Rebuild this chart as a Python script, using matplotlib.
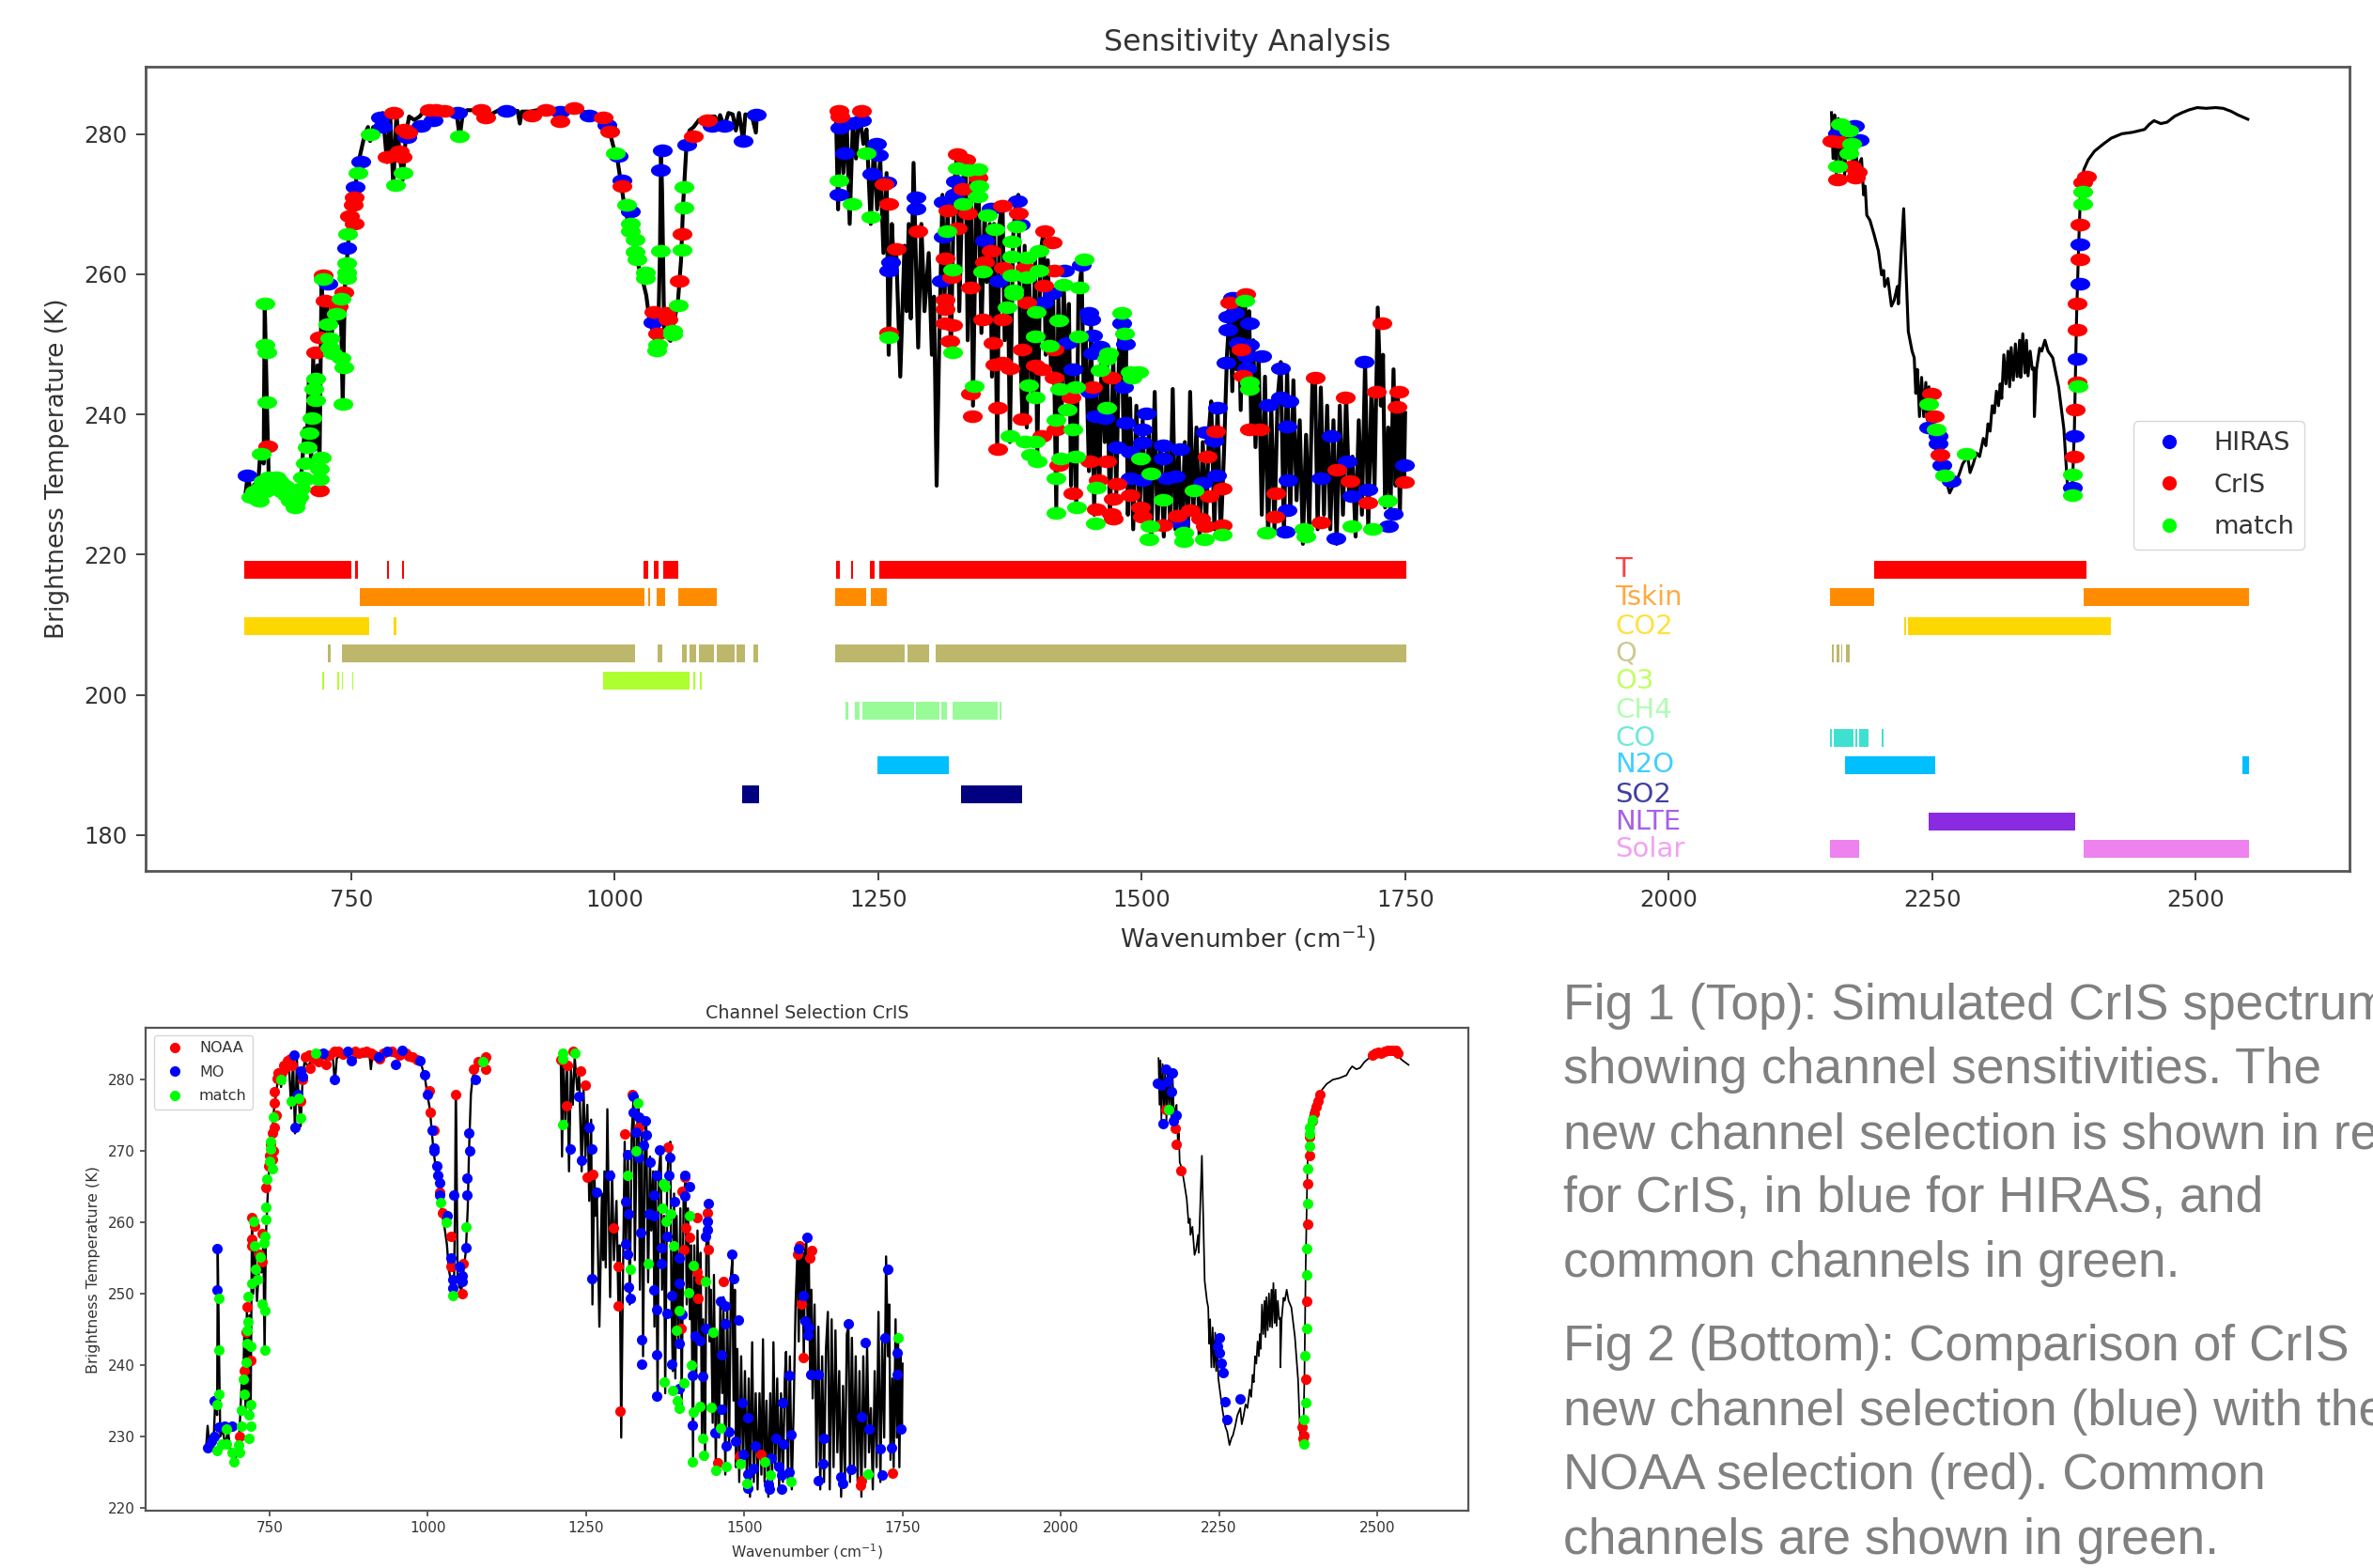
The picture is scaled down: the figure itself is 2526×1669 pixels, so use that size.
import matplotlib
matplotlib.use('Agg')
import matplotlib.pyplot as plt
from matplotlib.lines import Line2D
from matplotlib.markers import MarkerStyle
from matplotlib.transforms import Affine2D
import numpy as np

W = 2526
H = 1669

# spectrum (wavenumber, brightness temperature)
spec_a = [(650,229),(652,231.5),(655,228.5),(658,230),(661,228.5),(664,235),(667,233),(668,256),(670,242),(672,230),
 (676,231),(680,228.5),(684,231),(688,228),(692,227),(696,227),(700,228),(703,232),(706,238),(708,236),(710,245),
 (712,233),(714,248),(716,235),(718,247),(720,233),(722,260),(724,250),(727,256),(730,249),(734,255),(737,253),
 (740,257),(742,241.5),(744,258),(746,262),(748,266),(751,270),(754,272.5),(757,276),(760,278),(763,280),(766,281),
 (768,279),(771,281),(773,279.5),(776,282),(780,283),(784,276),(787,283),(790,272.5),(793,283),(796,277),(799,273.5),
 (802,280),(805,282.5),(810,282),(815,282.5),(820,283.5),(825,283.5),(830,283.5),(835,283),(840,283),(845,283.3),
 (850,283),(853,279.5),(856,283),(860,283.4),(865,283.4),(870,283.6),(875,283),(880,282.5),(885,283),(890,283.4),
 (895,283.4),(900,283.3),(908,283.3),(910,281.5),(912,283.2),(920,283.2),(930,283.5),(940,283.5),(948,283.3),
 (955,283.7),(961,283.7),(970,283.2),(978,282.8),(985,282.5),(990,282),(995,280.5),(1000,277.5),(1003,276),(1006,273),
 (1009,270),(1012,268),(1015,266.5),(1018,264.5),(1022,261.5),(1026,259.5),(1030,257),(1033,253.5),(1036,252),
 (1039,250),(1041,249.5),(1043,263),(1044,277.5),(1045,272),(1047,252),(1050,251),(1053,250.5),(1056,253),(1060,256),
 (1063,262),(1065,270),(1068,278),(1071,280.5),(1075,281),(1080,282),(1085,282),(1090,282.5),(1095,282.5),(1098,281.5),
 (1100,282.7),(1104,281),(1108,283),(1112,282.8),(1115,280.5),(1118,283),(1122,279),(1124,282.8),(1130,282.7),
 (1134,280.2),(1135,282.7)]

spec_b = [(1210,283),(1212,270),(1214,283.5),(1217,275),(1220,283),(1223,268),(1226,282),(1229,277),(1232,283.5),
 (1236,279),(1239,281),(1243,268),(1246,279),(1249,270),(1252,277),(1255,264),(1258,275),(1260,250),(1263,268),
 (1265,262),(1267,265),(1271,247),(1275,265),(1277,256),(1279,268),(1281,255),(1283.6,276.4),(1286,262),(1288,251),
 (1291,268),(1294,256),(1298,264),(1301,250),(1303,258),(1305.5,232),(1308,252),(1311,272),(1313,258),(1316,270),
 (1319,250),(1322,273),(1325,278),(1327,256),(1330,273),(1333,277),(1335,252),(1338,274),(1340,243),(1343,272),
 (1345,275),(1348,253),(1351,270),(1353,260),(1356,268),(1358,247),(1360,268),(1363,237),(1365,268),(1368,271),
 (1370,252),(1373,262),(1375,238),(1378,266),(1380,270),(1383,272),(1385,250),(1387,241),(1389,265),(1391,240),
 (1393,262),(1396,245),(1399,263),(1401,236),(1404,264),(1407,267),(1409,250),(1411,263),(1414,248),(1416,258),
 (1419,229),(1421,258),(1424,240),(1426,260),(1429,245),(1431,257),(1433,232),(1435,248),(1438,229),(1440,258),
 (1443,262),(1445,245),(1447,252),(1450,234),(1452,254),(1455,228),(1457,246),(1460,232),(1462,250),(1465,238),
 (1467,251),(1470,227),(1473,250),(1476,231),(1479,254),(1481,256),(1483,237),(1485,252),(1487,228),(1489,244),
 (1492,226),(1495,243),(1498,228),(1501,241),(1504,226),(1507,240),(1509,224),(1512.4,244.9),(1515,226),(1518,238),
 (1521,225),(1524,238),(1527,227),(1529.5,245.3),(1532,226),(1535,237),(1538,224),(1541,238),(1544,226),
 (1546,244.9),(1549,228),(1552,240),(1555,225),(1558,238),(1561,226),(1564,240),(1566,243.6),(1569,226),(1572,243),
 (1575,225),(1578,236),(1581,250),(1584,257.5),(1586,245),(1588,258),(1590,248),(1592,257),(1594,242.4),(1596,258),
 (1598,258.4),(1600,247),(1602,256),(1604,240),(1606,252),(1608,237.3),(1611,250),(1614,228),(1617,247),(1620,225),
 (1623,243),(1626,226),(1629,244),(1632,249),(1635,225),(1638,248),(1641,228),(1644,246.5),(1647,230),(1650,241),
 (1653,224),(1656,239),(1659,226),(1662,246),(1664.5,247),(1667,226),(1670,245.5),(1673,228),(1676,243),(1679,226),
 (1682,241),(1685,224),(1688,243),(1691,228),(1694,244.5),(1697,230),(1700,236),(1703,225),(1706,241),(1709,228),
 (1712,249),(1715,226),(1718,245),(1721,232),(1724,256.5),(1727,243),(1729,250),(1731,229),(1734,240),(1736,228),
 (1739,248),(1741,232),(1743,245),(1745,228),(1747,243),(1749,233),(1750,242)]

spec_c = [(2154.5,283.3),(2156,277),(2157.5,283),(2159,275),(2161,282.5),(2163,276),(2165,282),(2167,274.5),(2169,281.5),
 (2171,277),(2173,281),(2175,275),(2177,280.5),(2179,275),(2181,276.4),(2183,277),(2185,272),(2186.5,273.2),(2188,269.2),
 (2191,268.5),(2195,266.5),(2199,264.3),(2202,261),(2204,261.6),(2205,259.4),(2208,260.5),(2211.4,256.7),(2214,257.5),
 (2217,259.4),(2218,257),(2223,270.1),(2227.4,253.2),(2231,250.5),(2233,249.6),(2234.5,244.7),(2236,248),(2238,241.5),
 (2240,246.9),(2242,241.5),(2244,246.2),(2245.5,241),(2247,245.6),(2249,240),(2252,238),(2256,235.5),(2260,233.5),
 (2263,232.8),(2266.6,231),(2270,232),(2272,232.3),(2275.5,233.5),(2279,235),(2283.7,236),(2286,233.8),(2289,235),
 (2292,236.5),(2295,236),(2298.6,238.5),(2301,237.5),(2303,240.5),(2305,239.5),(2307,243),(2309,242),(2311,245),
 (2313,243),(2314.6,246),(2316,244),(2318,250),(2320,246),(2322,250.5),(2323.5,245.6),(2325,251),(2327,246.5),
 (2329,251.5),(2330.6,247),(2333,252),(2334,246.9),(2336,252.9),(2338,247.5),(2339.5,252),(2341,247.1),(2343,250.5),
 (2345,248),(2346.6,248.2),(2347,241.5),(2349,248),(2352,250.9),(2354,250.5),(2357,252),(2360,250.5),(2364.4,249.6),
 (2370,245.6),(2375,239.8),(2378.7,231.3),(2381,231),(2383,231.5),(2385,240),(2387,255),(2389,265),(2391,273.2),
 (2394,275.5),(2398,276.8),(2404,278),(2412.5,279),(2420,279.8),(2430,280.4),(2440,280.6),(2451.6,281),(2456,281.7),
 (2460.5,282.2),(2467,281.8),(2473,282),(2480,282.8),(2487,283.3),(2494,283.7),(2501.5,284),(2510,283.9),(2519,284),
 (2526,283.9),(2533.5,283.5),(2540,283),(2549.5,282.4)]

# channels in the top chart
top_hiras = [(651,231.3),(728,258.6),(745.4,263.8),(754,272.4),(759,276),(778,282.4),(780,281),(803,279.5),(816,281.2),
 (828,282),(850.5,283),(897.4,283.3),(948,283.2),(976,282.6),(993,281.3),(1003,276.9),(1007,273.4),(1015,268.9),
 (1045,277.7),(1043,274.9),(1036,253.2),(1068.5,278.5),(1092.4,281.2),(1104,281.2),(1134,282.7),(1122,279),
 (1214,281.2),(1226,281.9),(1234,282.3),(1248,279),(1250,277.5),(1218,277.8),(1244,274.9),(1213,272),(1258,273.7),
 (1286,271.7),(1286,270.1),(1311.5,271),(1323.5,273.9),(1322,272),(1382,271.2),(1357,270.1),(1385,267.9),(1311.5,266.3),
 (1351,265.7),(1262,262.8),(1260,261.6),(1309.5,260.1),(1364,260.2),(1427,261.6),(1443,262.3),(1415,258.5),(1407,257.2),
 (1450,255.8),(1452,254.9),(1481,254.4),(1453,252.7),(1485,251.5),(1429,251.6),(1435,248),(1453,250.2),(1461,251.1),
 (1483,245.6),(1451,244.9),(1456,241.6),(1465,241.3),(1485,240.6),(1504,242),(1500.5,239.8),(1500.5,238),(1477,237.3),
 (1489,236.7),(1520,237.6),(1520,235.7),(1536,237),(1489,233),(1500.5,232.8),(1524,233),(1532,233.3),(1558,232.4),
 (1560,239.3),(1568,238.2),(1572,242.7),(1571,233.4),(1536,227),(1586,257.8),(1588,255.8),(1582,255.2),(1582,253.4),
 (1602,254.3),(1592,251.6),(1602,251.4),(1580,248.9),(1600,248.2),(1614,249.8),(1600,249.8),(1632,248.2),(1620,243.1),
 (1632,244.2),(1640,243.6),(1638,240.2),(1639,232.8),(1638,228.6),(1636,225.7),(1680,238.9),(1670,233),(1695,235.4),
 (1711.4,249.1),(1715,231.5),(1699.5,230.6),(1684,224.8),(1749,234.9),(1739,228.1),(1734.5,226.5),(2176,281.5),
 (2181,279.6),(2160,280.4),(2390,265.2),(2390,259.8),(2387.6,249.5),(2384.7,238.8),(2383,231.7),(2247,240),(2256,238.9),
 (2256,237.8),(2259.5,234.9),(2268.4,232.6)]

top_cris = [(670.6,235.4),(719.6,229.2),(716.4,248.9),(720,251),(725.5,256.2),(723.5,259.8),(743,257.5),(738,255.4),
 (753,271),(752,269.9),(748,268.3),(753,267.2),(790,283),(800,280.6),(804,280.2),(784,276.7),(796,277.5),(798,276.8),
 (824,283.5),(830,283.5),(838,283.3),(873.5,283.5),(878,282.4),(921,282.6),(935,283.4),(948,281.8),(961,283.7),(989,282.3),
 (995,280.4),(1007,272.6),(1037,254.6),(1049,254.5),(1041,251.6),(1050.6,253.6),(1061.4,259),(1064,265.8),(1075,279.7),
 (1088,282),(1213,283.5),(1214,282.8),(1234,283.5),(1256,273.5),(1260,270.7),(1288,267),(1267,264.5),(1260,253),
 (1325.4,277.6),(1333,276.8),(1345,274.4),(1330,272.8),(1368,270.5),(1335,269.5),(1383,269.5),(1316,269.8),(1325,267.4),
 (1313.5,263.3),(1408,267),(1415,265.4),(1357,264.3),(1351,262.7),(1369,262),(1389,262),(1417,261.6),(1319.5,260.7),
 (1407,259.5),(1337.4,259.2),(1313.5,257.6),(1313.5,256.3),(1391,257.2),(1313.5,254.4),(1320.6,254.1),(1318,251.9),
 (1349,254.9),(1368,254.9),(1359,251.6),(1387,250.7),(1417,250.7),(1360.4,248.7),(1375,248.2),(1368,248.9),(1399,248.5),
 (1405,248),(1417,246.9),(1471,246.9),(1453,245.6),(1338,244.7),(1433,244.2),(1363,242.7),(1339,241.5),(1387,241.2),
 (1405,238.9),(1363,237),(1419,239.8),(1451,235.3),(1467,235.3),(1421,234.8),(1459,232.8),(1477,232.2),(1489,230.7),
 (1473,230.2),(1435,231),(1457,228.8),(1471,228.1),(1473,227.5),(1498.5,229),(1500.5,227.7),(1520,226.6),(1534,227.9),
 (1546,228.6),(1556,227.5),(1560,226.4),(1576,226.6),(1576,231.6),(1564,230.6),(1562,236),(1570,239.5),(1584,257.2),
 (1599,258.4),(1594,250.7),(1596,247.1),(1612,239.8),(1602,239.8),(1664.4,246.9),(1627,231),(1626,227.7),(1693,244.2),
 (1685.5,234.2),(1697.5,232.6),(1670,226.9),(1715,229.7),(1728,254.4),(1723,244.9),(1744.4,244.9),(1742,242.8),(1749,232.5),
 (2154.5,279.4),(2161.6,279.3),(2174,275.9),(2179.4,275.2),(2177.6,274.4),(2160.5,274.1),(2396.5,274.5),(2393,273.7),
 (2390,267.9),(2390,263.2),(2387.6,257),(2387.6,253.5),(2387.6,246.2),(2386,242.4),(2384.7,236),(2249.5,244.7),(2252,241.5),
 (2257.7,236.2)]

top_match = [(668,255.8),(668.6,250),(670,248.9),(670,241.8),(664.6,234.4),(655,228.2),(662.6,229.5),(670.6,230.8),(678.6,231),
 (686.5,229.9),(662.6,227.7),(692.5,227.7),(696.5,226.8),(700.5,228.2),(658,229),(660,228),(666,230.5),(668,229),(672,231),(675,230),
 (682,230.5),(684,229),(689,228.5),(694,229),(698,227.5),(702,229.5),(704,231),
 (708.4,235.3),(706.4,233.1),(706.4,230.8),(722,233.9),
 (720,232.2),(720,230.8),(712.4,239.5),(710.4,237.3),(716.4,245.1),(714.4,243.6),(716.4,242),(730,250.9),(730,249.6),(732,248.7),
 (728,252.9),(736,254.4),(740,256.5),(740,248),(743,246.7),(742,241.5),(723.5,259.3),(745.4,261.6),(745.4,260.3),(745.4,259.4),
 (747,265.7),(756,274.4),(768,280),(792,272.7),(799,274.5),(853,279.7),(1001,277.3),(1011,269.9),(1015,267.2),(1015,266.1),
 (1019,265),(1019,263.2),(1021,262.1),(1029,260.3),(1029,259.4),(1043,263.3),(1064,263.5),(1066,272.4),(1066,269.5),
 (1060.6,255.6),(1054.6,252),(1054.6,251.4),(1040.7,250),(1040,249.1),(1213,274),(1225,270.8),(1239,277.7),(1243,268.9),
 (1260,252.4),(1325.4,275.7),(1335,275.4),(1345,275.5),(1346,273.2),(1345,271.8),(1330,270.8),(1354,269.2),(1315.5,267),
 (1361,267.3),(1381,267.7),(1377,265.6),(1403,264.3),(1391,263.4),(1377,263.5),(1445,263.2),(1321,261.7),(1349,261.5),
 (1377,261),(1391,260.7),(1403,261.6),(1426,259.6),(1441,259.3),(1379,258.9),(1379,258.3),(1372,256.5),(1481,255.8),
 (1400,255.9),(1421,254.7),(1440,252.6),(1484,252.9),(1399,252.5),(1412,251.3),(1469,250.2),(1467,249.4),(1461,247.9),
 (1489,247.6),(1497,247.6),(1491,246.9),(1321,250.4),(1341,245.7),(1393,245.8),(1399,244.2),(1422,245.3),(1437,245.6),
 (1429,242.4),(1419,241.1),(1467,242.7),(1435,239.7),(1375,238.9),(1389,238.1),(1399,238.1),(1395,236.2),(1401,235.3),
 (1423,235.7),(1437,236),(1499,235.8),(1508.5,233.7),(1419,233),(1457,231.7),(1550,231.4),(1520,230.1),(1438,229),(1419,228.2),
 (1456,226.8),(1507.5,226.4),(1506.5,224.6),(1540,225.5),(1540,224.4),(1559.4,224.6),(1576,225.3),(1602,246.2),(1602,245.3),
 (1598,257.4),(1618,225.5),(1654,226.1),(1656,225),(1699,226.4),(1719,226.1),(1733,229.9),(2163,281.7),(2170.5,280.8),(2174,279),
 (2170.5,277.7),(2160.5,275.9),(2393,272.4),(2393,270.7),(2388,245.7),(2247,243.2),(2254,239.7),(2282.6,236.4),(2262,233.4),
 (2383,233.6),(2383,230.7)]

# channels in the bottom chart
low_noaa = [(758,276.8),(758,278.3),(762,280.2),(770,281.2),(778,282.7),(806.5,283.2),(814.5,281.7),(826.6,282.5),(838.7,282.2),
 (859,284),(891,283.7),(903,284),(923,283),(943,284),(975.4,283.2),(983.4,282.8),(802.5,280),(798.5,277),(722,260.7),(726,259.5),
 (764,281),(766,280),(772,282),(775,281.8),(782,283),(786,282),(812,283.5),(820,283),(830,283.6),(845,283.5),(852,284),(865,283.6),
 (885,284),(897,283.9),(910,283.8),(915,283.5),(930,283.7),(955,283.5),(965,283.7),(970,283.3),(748,268),(752,271),(755,272.5),
 (760,275),(756,270),(2497,283.7),(2502,283.9),(2512,284),(2516,284.1),(2524,284.2),
 (722,257.7),(722,256.7),(738,258.5),(734,255.5),(738,254.5),(744.6,264.9),(750,269.4),(754,268.9),(758,273.3),(714,248.2),
 (712.4,244.6),(719.6,240.7),(710,239.2),(702,230),(1002,278.5),(1003.5,275.5),(1009,273),(1018,264.2),(1023.6,261.4),
 (1035.7,258),(1035.7,253.8),(1043.7,278),(1055.8,254.3),(1054,250),(1072,281.5),(1080,282.5),(1092,283.2),(1092,281.5),
 (1210,282.8),(1220.6,282),(1228.7,284),(1241,281.2),(1249,279.3),(1219,276.4),(1251,266.4),(1261,266.8),(1293,259.2),
 (1301,253.8),(1301,248.3),(1303,233.6),(1311,272.4),(1323.6,277.9),(1333,273.3),(1380,270.6),(1405.6,266.4),(1401.6,264.4),
 (1442,261.4),(1425.7,260.7),(1408,259.2),(1413.6,257.9),(1404,256.2),(1443.4,256.2),(1425.7,253),(1429.7,252),(1427,249.4),
 (1467.6,251.7),(1400,245.1),(1492.5,227.3),(1526,227.5),(1458,226.3),(1584,255.6),(1586.6,256.7),(1606.6,256.1),(1604,255),
 (1590.6,248.6),(1593,241.1),(1683,223.2),(1684.7,223.8),(1733.7,224.9),(2166.6,275.8),(2181,273.2),(2183,271),(2190,267.3),
 (2410,278),(2407,277),(2403.7,276.2),(2400.4,275.3),(2397,274.3),(2393.8,272),(2393.8,269.4),(2390.5,265.4),(2390.5,259.8),
 (2388.5,249),(2386.5,238),(2382,231.3),(2384,230.2),(2382.5,229.8),(2493,283.5),(2506.4,283.8),(2519.6,284.1),(2529.5,284.1),
 (2533,283.8)]

low_mo = [(667.4,256.3),(667.4,250.6),(662,235),(652,228.4),(657.7,229.3),(662,230),(670,231.3),(678,231.5),(690,231.5),(789,283.5),
 (798.5,281.2),(802.5,280.5),(794.4,278),(790.4,273.3),(834.7,283.7),(852.3,280.1),(873,284),(879,282.7),(921.5,283.2),(935,284),
 (949,282.2),(959.3,284.2),(987.4,282.7),(995.5,280.7),(999.5,277.9),(1006,272.9),(1009,270.4),(1009,270.1),(1014,267.9),
 (1015.6,266.6),(1018,265.6),(1018,263.9),(1030,261),(1041.3,263.8),(1035.7,255),(1039.7,252),(1039.7,250.8),(1049.4,253.8),
 (1054,252.5),(1054,251.8),(1060,256.5),(1064,272.6),(1065.4,270),(1062,266.2),(1062,263.9),(1074.3,280.1),(1238.4,277.7),
 (1224.7,270.3),(1243,268.7),(1254.4,273.3),(1259,270.3),(1258.4,252.1),(1266.5,264.2),(1286.6,266.6),(1313,262.9),(1314.8,269.5),
 (1329,272.7),(1325,277.7),(1325,275.5),(1333,274.8),(1343,274.3),(1345,272.3),(1341,270.8),(1333,269.1),(1365.4,270.2),
 (1383,269.1),(1351.8,268.4),(1361.4,266.6),(1381.5,266.6),(1405.6,266.6),(1413.6,265),(1357.4,263.9),(1389.5,262.9),(1405.6,263.7),
 (1317,261.2),(1349,261.2),(1357.4,261),(1443.4,262.7),(1442,260.2),(1442,259),(1438,258),(1337,258.6),(1377.5,258),(1313,257),
 (1315,255.5),(1369.4,256.5),(1369.4,254.3),(1397.6,255),(1479.6,255.5),(1483.6,252.1),(1317,251),(1319.5,249.4),(1357.4,250.5),
 (1397.6,251.5),(1385.5,249.8),(1361.4,247.8),(1377.5,247.3),(1401.6,247.1),(1462,249),(1470,248.3),(1470,245.8),(1490,246.3),
 (1438,245.1),(1421.7,244.1),(1429.7,243.4),(1337.3,243.6),(1397.6,243),(1361.4,241.5),(1337.3,240.2),(1385.5,240.2),(1417.7,238.6),
 (1434,238.4),(1464.3,241.5),(1361.4,235.7),(1397.6,236.7),(1496.5,234.7),(1417.7,231.6),(1454,230.5),(1464.3,233.8),(1475.6,230.7),
 (1486,229.3),(1471.6,228.7),(1506,232.7),(1570.5,238.6),(1561,234.7),(1550.4,229.8),(1562.5,229),(1574.5,230.3),(1518,228.7),
 (1498,227.5),(1542.3,227),(1554.4,225.8),(1570.5,225),(1514,225.5),(1506,224.8),(1506,222.8),(1538,223.3),(1540,222.6),
 (1558.4,224.6),(1558.4,222.6),(1598.6,257.9),(1585,256.4),(1593,249.8),(1596,246.2),(1602.6,245.3),(1601,244.2),(1605,238.7),
 (1617,238.7),(1625,229.8),(1624,226.2),(1617,223.8),(1652.5,224.3),(1655,223.4),(1668.6,225.4),(1664.6,245.8),(1691,243.2),
 (1684.7,232.8),(1696.8,231.1),(1715,228.3),(1717.6,224.6),(1727,253.5),(1721.7,243.9),(1733,228.4),(1741,241.7),(1741,238.7),
 (1747.4,231.1),(2153,279.5),(2159,279.3),(2165.3,281.5),(2177,281),(2168.6,279.8),(2175,278.3),(2162,273.9),(2182,275),(2178.6,274.3),
 (2250,243.9),(2248,242.7),(2250,241.7),(2253.4,240.3),(2256,239),(2260,234.9),(2262.7,232.4),(2283,235.3)]

low_match = [(670,249.4),(670,242.1),(670,235.9),(667.4,234.5),(682,231),(674,229),(667.4,228),(682,229),(690,227.8),(694,226.5),
 (700.4,228.8),(702,227.8),(706,231.5),(706,233.7),(710,235.9),(708.4,238),(712.4,240.4),(714,243.1),(714,244.9),(716.4,246.1),
 (716.4,249.6),(719.6,242.6),(718,233),(719.6,231.5),(718,229.8),(720.5,234.5),(722,251.5),(730,252),(727.7,253.5),(726,256.7),
 (724.5,260.2),(735.7,255.2),(740.6,257.2),(742,258),(738,248.6),(742,247.6),(742,242.1),(744.6,262.2),(744.6,260.4),(746,266.1),
 (750,268.6),(754,267.6),(752,271.4),(752,270.3),(755.8,274.8),(768,280.1),(784,277),(796,277.4),(798.5,274.6),(822.6,283.8),
 (1020.4,262.8),(1029,260),(1060,259.4),(1039.7,249.7),(1086.4,282.5),(1212.6,283.7),(1212.6,283),(1232.7,283.7),(1212.6,273.7),
 (1331.6,276.7),(1329,270),(1315,266.6),(1372,265.4),(1375,265),(1371,262),(1384,261.2),(1376,260.2),(1413.7,261),(1388,256.7),
 (1348,254.3),(1319.5,253.4),(1419,254),(1438,251.7),(1412,250.2),(1397.6,247.7),(1392,244.9),(1450,244.6),(1416,240),(1373.5,237.7),
 (1404,237.5),(1387,236.5),(1393.5,235),(1397.6,234),(1429.7,234.2),(1419,233.4),(1448,234.1),(1462,231.2),(1434,229.8),(1436,227.4),
 (1417.7,226.5),(1455.5,225.2),(1471.6,225.8),(1494,226.2),(1532.7,226.4),(1504.5,223.4),(1540.7,224.6),(1574.5,223.7),(1695,224.8),
 (1743.4,243.9),(2170.6,275.8),(2397,274.4),(2393.8,273.3),(2392.5,272.4),(2393,270.7),(2390.5,267.5),(2390.5,262.7),(2388.5,256.3),
 (2388.5,252.7),(2388.5,245.2),(2386,241.3),(2386.5,234.7),(2384,232.4),(2384,229)]

# channel sensitivity ranges, one per gas
band_names = ['T', 'Tskin', 'CO2', 'Q', 'O3', 'CH4', 'CO', 'N2O', 'SO2', 'NLTE', 'Solar']
band_cols = ['red', 'darkorange', 'gold', 'darkkhaki', 'greenyellow', 'palegreen', 'turquoise',
             'deepskyblue', 'navy', 'blueviolet', 'violet']
band_y = [217.8, 214.0, 209.8, 205.9, 202.0, 197.8, 193.8, 190.0, 185.8, 181.9, 178.1]
band_lab_y = [217.9, 213.9, 209.8, 205.9, 202.0, 197.8, 193.8, 190.0, 185.8, 181.9, 178.0]
ranges = [
 [(649,750),(754,756),(784,785.5),(798.5,800),(1027,1032),(1037,1042),(1046,1060),(1210,1214),(1224,1226),(1242,1247),(1251,1751),(2195,2396)],
 [(758,1028),(1032,1034),(1040,1048),(1060,1097),(1209,1239),(1243,1258),(2153,2195),(2394,2551)],
 [(649,767),(790,793),(2223.5,2225),(2227,2420)],
 [(728,731),(741,1019),(1041,1045),(1064,1068),(1071,1077),(1080,1094),(1097,1114),(1116,1124),(1132,1136),(1209,1275),(1278,1298),(1305,1751),
  (2155,2156.6),(2159,2161.6),(2164,2165),(2168.6,2171.5)],
 [(723,724),(737,738.5),(741,742),(751,752),(989,1071),(1075,1076),(1081,1083)],
 [(1219,1222),(1228,1232),(1235,1284),(1286,1308),(1310,1315),(1321,1363),(1365,1367)],
 [(2153,2155),(2157,2175),(2177,2179),(2181,2190),(2202,2204)],
 [(1249,1317),(2167,2253),(2544,2551)],
 [(1121,1137),(1329,1387)],
 [(2246.5,2386)],
 [(2153,2181),(2394,2551)],
]

xticks = [750, 1000, 1250, 1500, 1750, 2000, 2250, 2500]

notes = ['Fig 1 (Top): Simulated CrIS spectrum',
         'showing channel sensitivities. The',
         'new channel selection is shown in red',
         'for CrIS, in blue for HIRAS, and',
         'common channels in green.',
         'Fig 2 (Bottom): Comparison of CrIS',
         'new channel selection (blue) with the',
         'NOAA selection (red). Common',
         'channels are shown in green.']
notes_y = [1071, 1139, 1208, 1276, 1345, 1434, 1503, 1571, 1640]


def pix_axes(fig, left, top, right, bottom):
    return fig.add_axes([left / W, 1 - bottom / H, (right - left) / W, (bottom - top) / H])


def crop_fix(seg):
    # readings above 1200 came from crops that were 2.9x tall, not 3x
    s = np.array(seg, dtype=float)
    m = s[:, 0] >= 1200
    s[m, 1] = 291.13 - (291.1 - s[m, 1]) * 1.037
    return s


def draw_spec(ax, lw, last=None):
    for seg in [spec_a, spec_b, spec_c]:
        s = crop_fix(seg)
        if last is not None and seg is spec_a:
            s = s[s[:, 0] <= last]
        # the long band at the right end is drawn thinner in the original
        ax.plot(s[:, 0], s[:, 1], color='black', lw=lw * 0.75 if seg is spec_c else lw, zorder=2)


def draw_pts(ax, p, col, ms, stretch):
    mk = MarkerStyle('o', transform=Affine2D().scale(stretch, 1))
    ax.plot(p[:, 0], p[:, 1], ls='none', marker=mk, ms=ms, color=col, mec=col, mew=0, zorder=3)


def dot(col, ms):
    return Line2D([], [], ls='none', marker='o', ms=ms, color=col, mew=0)


fig = plt.figure(figsize=(W / 100, H / 100), dpi=100)

# top chart
ax = pix_axes(fig, 155, 71, 2501, 927)
draw_spec(ax, 3.0)
draw_pts(ax, crop_fix(top_hiras), 'blue', 9.8, 1.55)
draw_pts(ax, crop_fix(top_cris), 'red', 9.8, 1.55)
draw_pts(ax, crop_fix(top_match), 'lime', 9.8, 1.55)
for r, y, c, name, ly in zip(ranges, band_y, band_cols, band_names, band_lab_y):
    ax.broken_barh([(a, b - a) for a, b in r], (y - 1.27, 2.54), facecolors=c, zorder=2)
    ax.text(1949, ly, name, color=c, alpha=0.75, fontsize=21, ha='left', va='center')
ax.set_xlim(555, 2646)
ax.set_ylim(174.9, 289.6)
ax.set_xticks(xticks)
ax.set_yticks([180, 200, 220, 240, 260, 280])
ax.tick_params(labelsize=17.5, length=7, width=1.3, color='#333333', labelcolor='#333333', pad=7)
ax.set_title('Sensitivity Analysis', fontsize=22.8, color='#333333', pad=12)
ax.set_xlabel('Wavenumber (cm$^{-1}$)', fontsize=18.9, color='#333333', labelpad=9)
ax.set_ylabel('Brightness Temperature (K)', fontsize=19, color='#333333', labelpad=11)
for s in ax.spines.values():
    s.set_linewidth(2)
    s.set_color('#555555')
ax.legend([dot('blue', 11), dot('red', 11), dot('lime', 11)], ['HIRAS', 'CrIS', 'match'], fontsize=19.5,
          loc='lower right', bbox_to_anchor=((2453 - 155) / (2501 - 155), (927 - 585) / (927 - 71)),
          borderaxespad=0, handletextpad=0.75, labelspacing=0.68, labelcolor='#333333')

# bottom chart
ax2 = pix_axes(fig, 155, 1094, 1563, 1608)
draw_spec(ax2, 1.7, last=1096)
draw_pts(ax2, np.array(low_noaa), 'red', 8, 1.0)
draw_pts(ax2, np.array(low_mo), 'blue', 8, 1.0)
draw_pts(ax2, np.array(low_match), 'lime', 8, 1.0)
ax2.set_xlim(554, 2644)
ax2.set_ylim(219.6, 287.3)
ax2.set_xticks(xticks)
ax2.set_yticks([220, 230, 240, 250, 260, 270, 280])
ax2.tick_params(labelsize=11, length=4, width=1.1, color='#333333', labelcolor='#333333', pad=4)
ax2.set_title('Channel Selection CrIS', fontsize=13.7, color='#333333', pad=7)
ax2.set_xlabel('Wavenumber (cm$^{-1}$)', fontsize=11.2, color='#333333', labelpad=5)
ax2.set_ylabel('Brightness Temperature (K)', fontsize=11.5, color='#333333', labelpad=6)
for s in ax2.spines.values():
    s.set_linewidth(1.6)
    s.set_color('#555555')
ax2.legend([dot('red', 8), dot('blue', 8), dot('lime', 8)], ['NOAA', 'MO', 'match'], fontsize=11.5,
           loc='upper left', bbox_to_anchor=(9 / 1408, 1 - 8 / 514), borderaxespad=0, labelspacing=0.65,
           handletextpad=0.6, labelcolor='#333333')

for line, y in zip(notes, notes_y):
    fig.text(1664 / W, 1 - y / H, line, fontsize=38.4, color='#808080', family='Liberation Sans',
             ha='left', va='center')

fig.savefig('out.png', dpi=100)
